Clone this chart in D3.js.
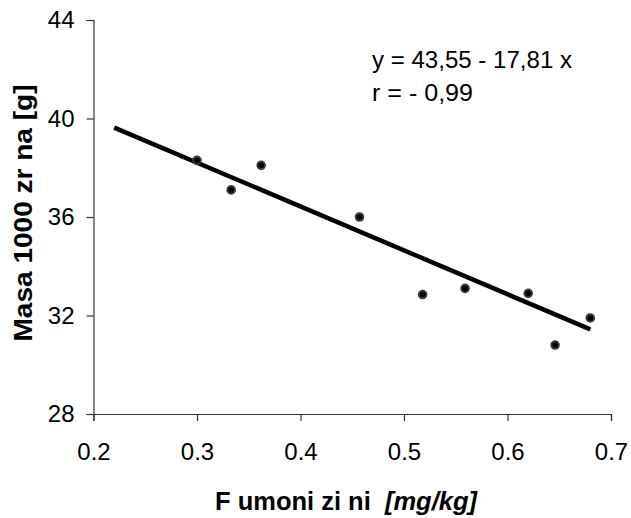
<!DOCTYPE html>
<html>
<head>
<meta charset="utf-8">
<script src="https://cdn.jsdelivr.net/npm/d3@7"></script>
<style>
  body { margin: 0; background: #fff; }
  text { font-family: "Liberation Sans", Arial, sans-serif; fill: #000; }
</style>
</head>
<body>
<div id="chart"></div>
<script>
// fumonisin content vs 1000-kernel mass
const fumonisins = [0.30, 0.333, 0.362, 0.457, 0.518, 0.559, 0.620, 0.646, 0.680];
const kernelMass = [38.3, 37.1, 38.1, 36.0, 32.85, 33.1, 32.9, 30.8, 31.9];
const xTicks = [0.2, 0.3, 0.4, 0.5, 0.6, 0.7];
const yTicks = [28, 32, 36, 40, 44];
const fit = { a: 43.55, b: -17.81, from: 0.22, to: 0.68 };
const eqLines = ["y = 43,55 - 17,81 x", "r = - 0,99"];

function drawChart() {
  const width = 631;
  const height = 518;
  const margin = { left: 93.5, right: 20, top: 20, bottom: 104 };

  const svg = d3.select("#chart")
    .append("svg")
    .attr("width", width)
    .attr("height", height);

  const x = d3.scaleLinear().domain([0.2, 0.7]).range([margin.left, 611]);
  const y = d3.scaleLinear().domain([28, 44]).range([414, margin.top]);

  // axes
  const xAxis = svg.append("g")
    .attr("transform", `translate(0,${y(28)})`)
    .call(d3.axisBottom(x).tickValues(xTicks).tickFormat(d3.format(".1f")).tickSize(7).tickPadding(22));
  const yAxis = svg.append("g")
    .attr("transform", `translate(${x(0.2)},0)`)
    .call(d3.axisLeft(y).tickValues(yTicks).tickSize(7).tickPadding(12));

  [xAxis, yAxis].forEach((g) => {
    g.select(".domain").attr("stroke", "#333").attr("stroke-width", 1.2);
    g.selectAll(".tick line").attr("stroke", "#333").attr("stroke-width", 1.2);
    g.selectAll("text")
      .style("font-family", '"Liberation Sans", Arial, sans-serif')
      .style("font-size", "24px")
      .attr("fill", "#000");
  });

  // regression line
  const line = d3.line().x((d) => x(d)).y((d) => y(fit.a + fit.b * d));
  svg.append("path")
    .datum([fit.from, fit.to])
    .attr("d", line)
    .attr("fill", "none")
    .attr("stroke", "#000")
    .attr("stroke-width", 4.5);

  // data points
  svg.append("g")
    .selectAll("circle")
    .data(fumonisins)
    .join("circle")
    .attr("cx", (d) => x(d))
    .attr("cy", (d, i) => y(kernelMass[i]))
    .attr("r", 3.8)
    .attr("fill", "#000")
    .attr("stroke", "#3a3a3a")
    .attr("stroke-width", 2);

  // equation
  svg.append("g")
    .selectAll("text")
    .data(eqLines)
    .join("text")
    .attr("x", 372)
    .attr("y", (d, i) => 68 + i * 33)
    .style("font-size", "23px")
    .attr("textLength", (d, i) => (i === 0 ? 200 : 101))
    .attr("lengthAdjust", "spacingAndGlyphs")
    .text((d) => d);

  // axis titles
  const xt = svg.append("text")
    .attr("x", 215)
    .attr("y", 510)
    .style("font-size", "25px")
    .style("font-weight", "bold")
    .style("white-space", "pre")
    .attr("textLength", 262)
    .attr("lengthAdjust", "spacingAndGlyphs");
  xt.append("tspan").text("F umoni zi ni  ");
  xt.append("tspan").style("font-style", "italic").text("[mg/kg]");

  svg.append("text")
    .attr("transform", "translate(32,213) rotate(-90)")
    .attr("text-anchor", "middle")
    .style("font-size", "25px")
    .style("font-weight", "bold")
    .attr("textLength", 257)
    .attr("lengthAdjust", "spacingAndGlyphs")
    .text("Masa 1000 zr na [g]");
}

window.onload = function () {
  drawChart();
};
</script>
</body>
</html>
